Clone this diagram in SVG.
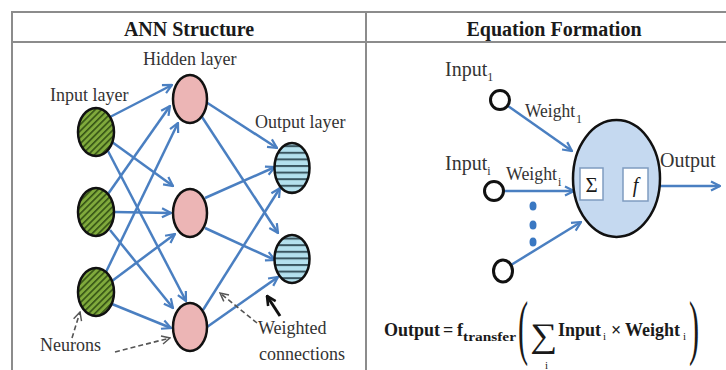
<svg xmlns="http://www.w3.org/2000/svg" width="726" height="370" viewBox="0 0 726 370">
<style>
.frame{stroke:#8c8c8c;stroke-width:2;fill:none}
.hdr{font-family:"Liberation Serif",serif;font-weight:bold;font-size:20px;fill:#1a1a1a;text-anchor:middle}
.lbl{font-family:"Liberation Serif",serif;font-size:18px;fill:#333}
.lbl2{font-family:"Liberation Serif",serif;font-size:20px;fill:#333}
.sub{font-size:12px}
.eq{font-family:"Liberation Serif",serif;font-size:18px;fill:#1a1a1a;font-weight:bold}
.eqs{font-family:"Liberation Serif",serif;font-size:11px;fill:#1a1a1a;font-weight:normal}
.con{stroke:#4a7fc1;stroke-width:2.5;fill:none;marker-end:url(#ah)}
.dash{stroke:#555;stroke-width:1.6;stroke-dasharray:5 3;fill:none;marker-end:url(#ahg)}
.nd{stroke:#111;stroke-width:2.5}
.ring{fill:#fff;stroke:#111;stroke-width:3}
.box{fill:#fff;stroke:#7f9cc0;stroke-width:1.5}
</style>
<defs>
<pattern id="hatch" patternUnits="userSpaceOnUse" width="4.5" height="4.5" patternTransform="rotate(45)">
<rect width="4.5" height="4.5" fill="#80aa3c"/>
<line x1="0.8" y1="0" x2="0.8" y2="4.5" stroke="#2f4d12" stroke-width="1.5"/>
</pattern>
<pattern id="stripes" patternUnits="userSpaceOnUse" width="10" height="6.6">
<rect width="10" height="6.6" fill="#b4e1ee"/>
<rect y="0" width="10" height="2" fill="#3a5660"/>
</pattern>
<marker id="ah" viewBox="0 0 12 12" refX="11" refY="6" markerWidth="12" markerHeight="12" markerUnits="userSpaceOnUse" orient="auto">
<path d="M2,1.5 L11,6 L2,10.5" fill="none" stroke="#4a7fc1" stroke-width="2.2"/>
</marker>
<marker id="ahg" viewBox="0 0 12 12" refX="11" refY="6" markerWidth="11" markerHeight="11" markerUnits="userSpaceOnUse" orient="auto">
<path d="M2,1.5 L11,6 L2,10.5" fill="none" stroke="#555" stroke-width="1.6"/>
</marker>
<marker id="ahk" viewBox="0 0 12 12" refX="11" refY="6" markerWidth="12" markerHeight="12" markerUnits="userSpaceOnUse" orient="auto">
<path d="M2,1.5 L11,6 L2,10.5" fill="none" stroke="#111" stroke-width="2.6"/>
</marker>
</defs>

<g id="frame">
<line class="frame" x1="12" y1="12" x2="726" y2="12"/>
<line class="frame" x1="12" y1="42" x2="726" y2="42"/>
<line class="frame" x1="12" y1="11" x2="12" y2="370"/>
<line class="frame" x1="366" y1="11" x2="366" y2="370"/>
<text class="hdr" x="189" y="36">ANN Structure</text>
<text class="hdr" x="554" y="36">Equation Formation</text>
</g>

<g id="connectors">
<line class="con" x1="110" y1="117" x2="172" y2="85"/>
<line class="con" x1="112" y1="142" x2="173" y2="186"/>
<line class="con" x1="108" y1="151" x2="186" y2="301"/>
<line class="con" x1="108" y1="194" x2="170" y2="106"/>
<line class="con" x1="114" y1="212" x2="171" y2="213"/>
<line class="con" x1="110" y1="230" x2="173" y2="308"/>
<line class="con" x1="106" y1="272" x2="178" y2="123"/>
<line class="con" x1="112" y1="281" x2="175" y2="234"/>
<line class="con" x1="112" y1="304" x2="171" y2="328"/>
<line class="con" x1="206" y1="102" x2="277" y2="148"/>
<line class="con" x1="202" y1="117" x2="278" y2="233"/>
<line class="con" x1="205" y1="198" x2="275" y2="167"/>
<line class="con" x1="205" y1="228" x2="275" y2="260"/>
<line class="con" x1="203" y1="310" x2="280" y2="188"/>
<line class="con" x1="207" y1="327" x2="278" y2="277"/>
<line class="dash" x1="72" y1="338" x2="80" y2="312"/>
<line class="dash" x1="115" y1="352" x2="170" y2="338"/>
<line class="dash" x1="257" y1="323" x2="220" y2="293"/>
<line x1="280" y1="316" x2="267" y2="296" stroke="#111" stroke-width="3" marker-end="url(#ahk)"/>
<line class="con" x1="508" y1="106" x2="572" y2="151"/>
<line class="con" x1="503" y1="191" x2="574" y2="191"/>
<line class="con" x1="511" y1="265" x2="581" y2="222"/>
<line class="con" x1="603" y1="185" x2="622" y2="185"/>
<line class="con" x1="648" y1="186" x2="720" y2="186"/>
</g>

<g id="input1"><ellipse class="nd" cx="96" cy="132" rx="18" ry="24" fill="url(#hatch)"/></g>
<g id="input2"><ellipse class="nd" cx="96" cy="212" rx="18" ry="24" fill="url(#hatch)"/></g>
<g id="input3"><ellipse class="nd" cx="96" cy="292" rx="18" ry="24" fill="url(#hatch)"/></g>
<g id="hidden1"><ellipse class="nd" cx="190" cy="99" rx="17" ry="24" fill="#ecb5b5"/></g>
<g id="hidden2"><ellipse class="nd" cx="190" cy="213" rx="17" ry="24" fill="#ecb5b5"/></g>
<g id="hidden3"><ellipse class="nd" cx="190" cy="327" rx="17" ry="24" fill="#ecb5b5"/></g>
<g id="output1"><ellipse class="nd" cx="292" cy="168" rx="17.5" ry="25" fill="url(#stripes)"/></g>
<g id="output2"><ellipse class="nd" cx="292" cy="259" rx="17.5" ry="24" fill="url(#stripes)"/></g>

<g id="labels-left">
<text class="lbl" x="143" y="65">Hidden layer</text>
<text class="lbl" x="50" y="101">Input layer</text>
<text class="lbl" x="255" y="128">Output layer</text>
<text class="lbl" x="40" y="351">Neurons</text>
<text class="lbl" x="258" y="334">Weighted</text>
<text class="lbl" x="259" y="360">connections</text>
</g>

<g id="in-1"><circle class="ring" cx="500" cy="100" r="9.5"/>
<text class="lbl2" x="445" y="76">Input<tspan class="sub" dy="5">1</tspan></text></g>
<g id="in-i"><circle class="ring" cx="494" cy="191" r="9.5"/>
<text class="lbl2" x="445" y="170">Input<tspan class="sub" dy="5">i</tspan></text></g>
<g id="in-n"><ellipse class="ring" cx="503" cy="271" rx="9.5" ry="11"/></g>
<g id="dots" fill="#3a78c2">
<ellipse cx="533" cy="206" rx="3.5" ry="4.5"/>
<ellipse cx="533" cy="225" rx="3.5" ry="4.5"/>
<ellipse cx="533" cy="242" rx="3.5" ry="4.5"/>
</g>
<g id="weights">
<text class="lbl" x="525" y="117" textLength="50" lengthAdjust="spacingAndGlyphs">Weight</text>
<text class="lbl sub" x="576" y="123">1</text>
<text class="lbl" x="506" y="180" textLength="51" lengthAdjust="spacingAndGlyphs">Weight</text>
<text class="lbl sub" x="558" y="186">i</text>
</g>
<g id="neuron">
<ellipse cx="616.5" cy="178.5" rx="43.5" ry="58.5" fill="#c5d9f0" stroke="#111" stroke-width="2.5"/>
<rect class="box" x="580" y="168" width="23" height="32"/>
<text x="591.5" y="192" text-anchor="middle" font-family="Liberation Serif,serif" font-size="21" fill="#1a1a1a">Σ</text>
<rect class="box" x="623" y="168" width="25" height="33"/>
<text x="635.5" y="192" text-anchor="middle" font-family="Liberation Serif,serif" font-style="italic" font-size="20" fill="#1a1a1a">f</text>
</g>
<text class="lbl2" x="660" y="167">Output</text>

<g id="equation">
<text class="eq" y="336"><tspan x="384">Output</tspan><tspan x="443">=</tspan><tspan x="457">f</tspan></text>
<text x="463" y="341" style="font-family:'Liberation Serif',serif;font-size:13px;font-weight:bold;fill:#1a1a1a" textLength="53" lengthAdjust="spacingAndGlyphs">transfer</text>
<text x="0" y="0" transform="translate(518,351) scale(0.42,1)" font-family="Liberation Serif,serif" font-size="72" fill="#1a1a1a">(</text>
<text x="530" y="347" font-family="Liberation Serif,serif" font-size="34" fill="#1a1a1a" textLength="27" lengthAdjust="spacingAndGlyphs">∑</text>
<text class="eqs" x="545" y="369">i</text>
<text class="eq" y="336"><tspan x="558">Input</tspan><tspan class="eqs" x="603" y="340">i</tspan><tspan x="611" y="336">×</tspan><tspan x="625">Weight</tspan><tspan class="eqs" x="683" y="340">i</tspan></text>
<text x="0" y="0" transform="translate(689,351) scale(0.42,1)" font-family="Liberation Serif,serif" font-size="72" fill="#1a1a1a">)</text>
</g>
</svg>
